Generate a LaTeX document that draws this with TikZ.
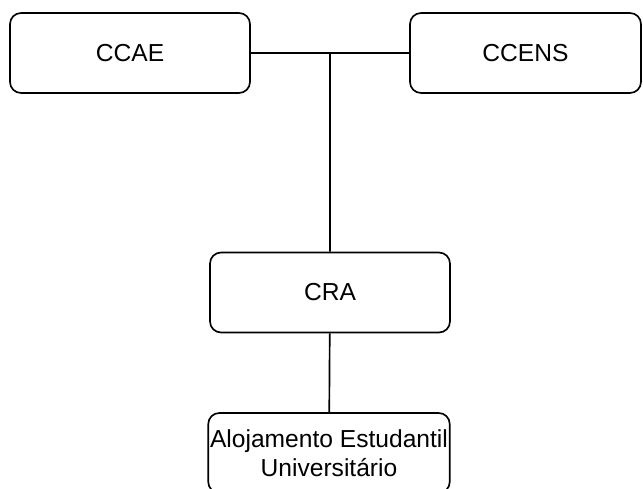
\documentclass[tikz,border=0pt]{standalone}
\usepackage{fontspec}
\setmainfont{Liberation Sans}
\begin{document}
\begin{tikzpicture}[x=0.02cm, y=-0.02cm,
    unit/.style={draw, line width=0.95pt, rounded corners=0.22cm, minimum width=4.8cm, minimum height=1.6cm, inner xsep=1pt, align=center, font=\fontsize{14}{16.5}\selectfont}]
    \useasboundingbox (0,0) rectangle (643,489);
    \node[unit] (ccae) at (130,53) {CCAE};
    \node[unit, minimum width=4.62cm] (ccens) at (525.5,53) {CCENS};
    \node[unit] (cra) at (330,292.5) {CRA};
    \node[unit] (aloj) at (329,453) {Alojamento Estudantil\\Universitário};
    \coordinate (jn) at (330,53);
    \draw[line width=0.95pt]
      (ccae) -- (ccens)
      (jn) -- (cra)
      (cra) -- (aloj)
    ;
  \end{tikzpicture}
\end{document}
